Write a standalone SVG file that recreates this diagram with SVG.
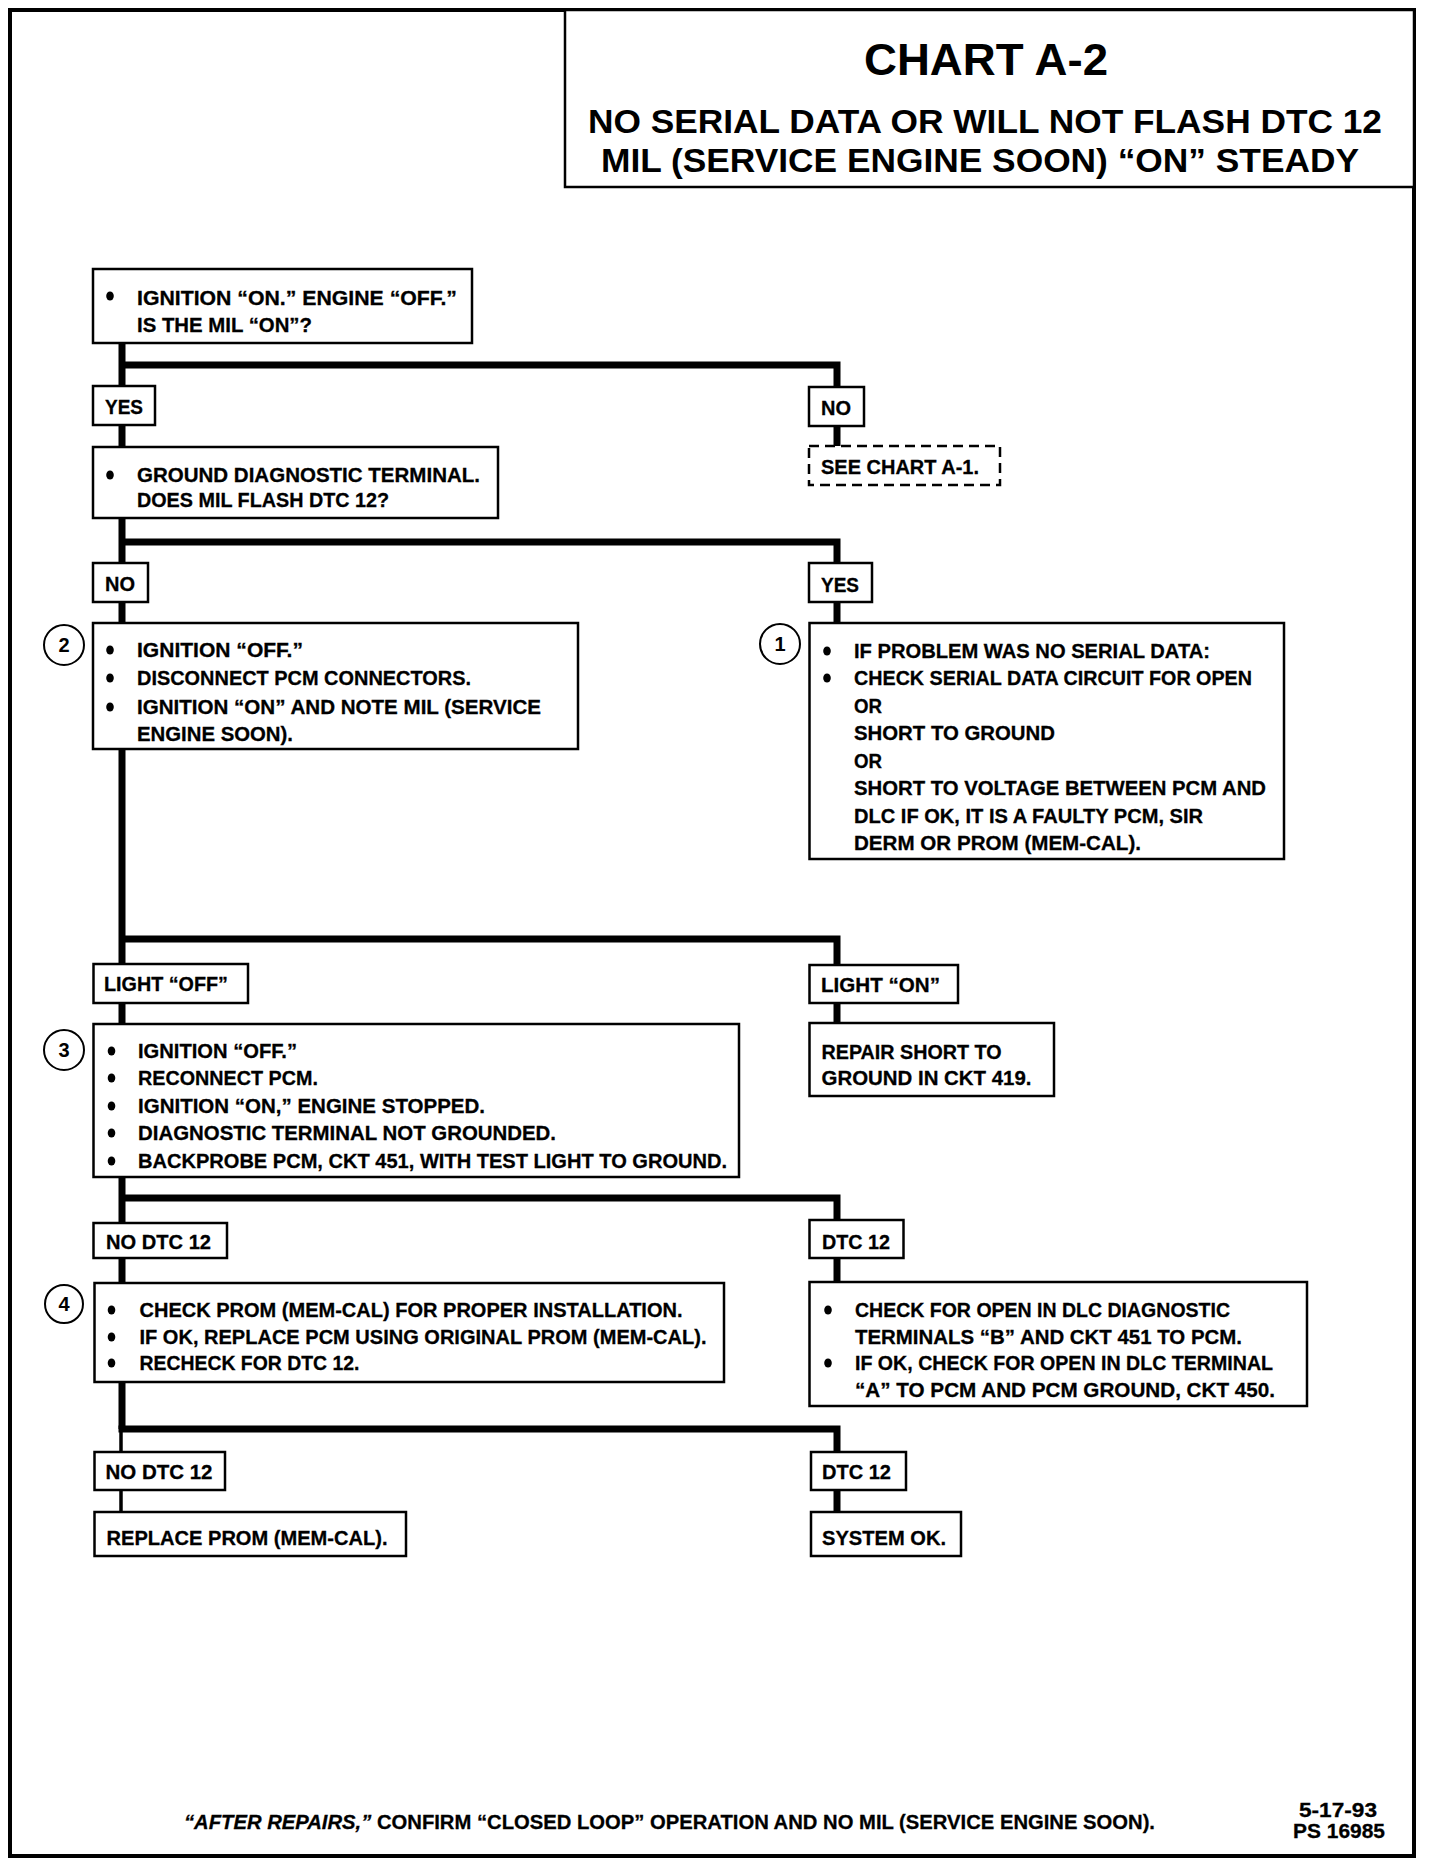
<svg xmlns="http://www.w3.org/2000/svg" width="1440" height="1866" viewBox="0 0 1440 1866">
<style>
.bx{fill:#fff;stroke:#000;stroke-width:2.5}
.dash{fill:#fff;stroke:#000;stroke-width:2.5;stroke-dasharray:10 6}
.t{font-family:"Liberation Sans",Arial,sans-serif;font-weight:bold;font-size:21px;fill:#000;stroke:#000;stroke-width:0.3}
.ti{font-family:"Liberation Sans",Arial,sans-serif;font-weight:bold;fill:#000}
.num{font-family:"Liberation Sans",Arial,sans-serif;font-weight:bold;font-size:20px;fill:#000;text-anchor:middle}
.cir{fill:#fff;stroke:#000;stroke-width:2}
.wire{fill:none;stroke:#000;stroke-width:7;stroke-linejoin:miter;stroke-linecap:butt}
.thin{fill:none;stroke:#000;stroke-width:3.5}
</style>
<defs>
<ellipse id="bul" cx="0" cy="0" rx="3.8" ry="4.6" fill="#000"/>
</defs>
<rect x="0" y="0" width="1440" height="1866" fill="#fff"/>
<rect id="frame" x="10" y="10" width="1404" height="1846" fill="none" stroke="#000" stroke-width="4"/>

<g id="title">
<rect x="565" y="10" width="849" height="177" fill="#fff" stroke="#000" stroke-width="2.5"/>
<text class="ti" x="864" y="75" font-size="44" textLength="244" lengthAdjust="spacingAndGlyphs">CHART A-2</text>
<text class="ti" x="588" y="133" font-size="34" textLength="794" lengthAdjust="spacingAndGlyphs">NO SERIAL DATA OR WILL NOT FLASH DTC 12</text>
<text class="ti" x="601" y="172" font-size="34" textLength="758" lengthAdjust="spacingAndGlyphs">MIL (SERVICE ENGINE SOON) “ON” STEADY</text>
</g>

<g id="connectors">
<polyline class="wire" points="122,343 122,1429"/>
<polyline class="wire" points="122,365 837,365 837,387"/>
<line class="wire" x1="837" y1="426" x2="837" y2="446"/>
<polyline class="wire" points="122,542 837,542 837,563"/>
<line class="wire" x1="837" y1="602" x2="837" y2="623"/>
<polyline class="wire" points="122,939 837,939 837,965"/>
<line class="wire" x1="837" y1="1003" x2="837" y2="1023"/>
<polyline class="wire" points="122,1198 837,1198 837,1220"/>
<line class="wire" x1="837" y1="1258" x2="837" y2="1282"/>
<polyline class="wire" points="118.5,1429 837,1429 837,1452"/>
<line class="wire" x1="837" y1="1490" x2="837" y2="1512"/>
<line class="thin" x1="121" y1="1429" x2="121" y2="1452"/>
<line class="thin" x1="121" y1="1490" x2="121" y2="1512"/>
</g>

<g id="n_ignition_on">
<rect class="bx" x="93" y="269" width="379" height="74"/>
<use href="#bul" x="110" y="296"/>
<text class="t" x="137" y="305" textLength="320" lengthAdjust="spacingAndGlyphs">IGNITION “ON.”  ENGINE “OFF.”</text>
<text class="t" x="137" y="332" textLength="175" lengthAdjust="spacingAndGlyphs">IS THE MIL “ON”?</text>
</g>

<g id="l_yes1">
<rect class="bx" x="93" y="386" width="62" height="39"/>
<text class="t" x="105" y="414" textLength="38" lengthAdjust="spacingAndGlyphs">YES</text>
</g>

<g id="l_no1">
<rect class="bx" x="809" y="387" width="55" height="39"/>
<text class="t" x="821" y="415" textLength="30" lengthAdjust="spacingAndGlyphs">NO</text>
</g>

<g id="n_see_chart">
<rect class="dash" x="809" y="446" width="191" height="39"/>
<text class="t" x="821" y="474" textLength="158" lengthAdjust="spacingAndGlyphs">SEE CHART A-1.</text>
</g>

<g id="n_ground">
<rect class="bx" x="93" y="447" width="405" height="71"/>
<use href="#bul" x="110" y="475"/>
<text class="t" x="137" y="482" textLength="343" lengthAdjust="spacingAndGlyphs">GROUND DIAGNOSTIC TERMINAL.</text>
<text class="t" x="137" y="507" textLength="252" lengthAdjust="spacingAndGlyphs">DOES MIL FLASH DTC 12?</text>
</g>

<g id="l_no2">
<rect class="bx" x="93" y="563" width="55" height="39"/>
<text class="t" x="105" y="591" textLength="30" lengthAdjust="spacingAndGlyphs">NO</text>
</g>

<g id="l_yes2">
<rect class="bx" x="809" y="563" width="63" height="39"/>
<text class="t" x="821" y="592" textLength="38" lengthAdjust="spacingAndGlyphs">YES</text>
</g>

<g id="n_step2">
<rect class="bx" x="93" y="623" width="485" height="126"/>
<circle class="cir" cx="64" cy="645" r="20"/>
<text class="num" x="64" y="652">2</text>
<use href="#bul" x="110" y="650"/>
<use href="#bul" x="110" y="678"/>
<use href="#bul" x="110" y="707"/>
<text class="t" x="137" y="657" textLength="166" lengthAdjust="spacingAndGlyphs">IGNITION “OFF.”</text>
<text class="t" x="137" y="685" textLength="334" lengthAdjust="spacingAndGlyphs">DISCONNECT PCM CONNECTORS.</text>
<text class="t" x="137" y="714" textLength="404" lengthAdjust="spacingAndGlyphs">IGNITION “ON” AND NOTE MIL (SERVICE</text>
<text class="t" x="137" y="741" textLength="156" lengthAdjust="spacingAndGlyphs">ENGINE SOON).</text>
</g>

<g id="n_step1">
<rect class="bx" x="809.5" y="623" width="474.5" height="236"/>
<circle class="cir" cx="780" cy="644" r="20"/>
<text class="num" x="780" y="651">1</text>
<use href="#bul" x="827" y="651"/>
<use href="#bul" x="827" y="678"/>
<text class="t" x="854" y="658" textLength="356" lengthAdjust="spacingAndGlyphs">IF PROBLEM WAS NO SERIAL DATA:</text>
<text class="t" x="854" y="685" textLength="398" lengthAdjust="spacingAndGlyphs">CHECK SERIAL DATA CIRCUIT FOR OPEN</text>
<text class="t" x="854" y="713" textLength="28" lengthAdjust="spacingAndGlyphs">OR</text>
<text class="t" x="854" y="740" textLength="201" lengthAdjust="spacingAndGlyphs">SHORT TO GROUND</text>
<text class="t" x="854" y="768" textLength="28" lengthAdjust="spacingAndGlyphs">OR</text>
<text class="t" x="854" y="795" textLength="412" lengthAdjust="spacingAndGlyphs">SHORT TO VOLTAGE BETWEEN PCM AND</text>
<text class="t" x="854" y="823" textLength="349" lengthAdjust="spacingAndGlyphs">DLC  IF OK, IT IS A FAULTY PCM, SIR</text>
<text class="t" x="854" y="850" textLength="287" lengthAdjust="spacingAndGlyphs">DERM OR PROM (MEM-CAL).</text>
</g>

<g id="l_light_off">
<rect class="bx" x="93.5" y="964" width="154.5" height="39"/>
<text class="t" x="104" y="991" textLength="124" lengthAdjust="spacingAndGlyphs">LIGHT “OFF”</text>
</g>

<g id="l_light_on">
<rect class="bx" x="809.5" y="965" width="148.5" height="38"/>
<text class="t" x="821" y="992" textLength="119" lengthAdjust="spacingAndGlyphs">LIGHT “ON”</text>
</g>

<g id="n_repair">
<rect class="bx" x="809.5" y="1023" width="244.5" height="73"/>
<text class="t" x="821.5" y="1059" textLength="180" lengthAdjust="spacingAndGlyphs">REPAIR SHORT TO</text>
<text class="t" x="821.5" y="1085" textLength="210" lengthAdjust="spacingAndGlyphs">GROUND IN CKT 419.</text>
</g>

<g id="n_step3">
<rect class="bx" x="93.5" y="1024" width="645.5" height="153"/>
<circle class="cir" cx="64" cy="1050" r="20"/>
<text class="num" x="64" y="1057">3</text>
<use href="#bul" x="111.5" y="1051"/>
<use href="#bul" x="111.5" y="1078"/>
<use href="#bul" x="111.5" y="1106"/>
<use href="#bul" x="111.5" y="1133"/>
<use href="#bul" x="111.5" y="1161"/>
<text class="t" x="138" y="1058" textLength="159" lengthAdjust="spacingAndGlyphs">IGNITION “OFF.”</text>
<text class="t" x="138" y="1085" textLength="180" lengthAdjust="spacingAndGlyphs">RECONNECT PCM.</text>
<text class="t" x="138" y="1113" textLength="347" lengthAdjust="spacingAndGlyphs">IGNITION “ON,” ENGINE STOPPED.</text>
<text class="t" x="138" y="1140" textLength="418" lengthAdjust="spacingAndGlyphs">DIAGNOSTIC TERMINAL NOT GROUNDED.</text>
<text class="t" x="138" y="1168" textLength="589" lengthAdjust="spacingAndGlyphs">BACKPROBE PCM, CKT 451, WITH TEST LIGHT TO GROUND.</text>
</g>

<g id="l_no_dtc1">
<rect class="bx" x="93.5" y="1223" width="133.5" height="35"/>
<text class="t" x="106" y="1249" textLength="105" lengthAdjust="spacingAndGlyphs">NO DTC 12</text>
</g>

<g id="l_dtc1">
<rect class="bx" x="809.5" y="1220" width="94" height="38"/>
<text class="t" x="822" y="1249" textLength="68" lengthAdjust="spacingAndGlyphs">DTC 12</text>
</g>

<g id="n_step4">
<rect class="bx" x="94.5" y="1283" width="629.5" height="99"/>
<circle class="cir" cx="64" cy="1304" r="19"/>
<text class="num" x="64" y="1311">4</text>
<use href="#bul" x="111.5" y="1310"/>
<use href="#bul" x="111.5" y="1337"/>
<use href="#bul" x="111.5" y="1363"/>
<text class="t" x="139.5" y="1317" textLength="543" lengthAdjust="spacingAndGlyphs">CHECK PROM (MEM-CAL) FOR PROPER INSTALLATION.</text>
<text class="t" x="139.5" y="1344" textLength="567" lengthAdjust="spacingAndGlyphs">IF OK, REPLACE PCM USING ORIGINAL PROM (MEM-CAL).</text>
<text class="t" x="139.5" y="1370" textLength="220" lengthAdjust="spacingAndGlyphs">RECHECK FOR DTC 12.</text>
</g>

<g id="n_dlc">
<rect class="bx" x="809.5" y="1282" width="497.5" height="124"/>
<use href="#bul" x="828" y="1310"/>
<use href="#bul" x="828" y="1363"/>
<text class="t" x="855" y="1317" textLength="375" lengthAdjust="spacingAndGlyphs">CHECK FOR OPEN IN DLC DIAGNOSTIC</text>
<text class="t" x="855" y="1344" textLength="387" lengthAdjust="spacingAndGlyphs">TERMINALS “B” AND CKT 451 TO PCM.</text>
<text class="t" x="855" y="1370" textLength="418" lengthAdjust="spacingAndGlyphs">IF OK, CHECK FOR OPEN IN DLC TERMINAL</text>
<text class="t" x="855" y="1397" textLength="420" lengthAdjust="spacingAndGlyphs">“A” TO PCM AND PCM GROUND, CKT 450.</text>
</g>

<g id="l_no_dtc2">
<rect class="bx" x="94.5" y="1452" width="130.5" height="38"/>
<text class="t" x="105.5" y="1479" textLength="107" lengthAdjust="spacingAndGlyphs">NO DTC 12</text>
</g>

<g id="n_replace_prom">
<rect class="bx" x="94.5" y="1512" width="311.5" height="44"/>
<text class="t" x="106.5" y="1545" textLength="281" lengthAdjust="spacingAndGlyphs">REPLACE PROM (MEM-CAL).</text>
</g>

<g id="l_dtc2">
<rect class="bx" x="811" y="1452" width="95" height="38"/>
<text class="t" x="822" y="1479" textLength="69" lengthAdjust="spacingAndGlyphs">DTC 12</text>
</g>

<g id="n_system_ok">
<rect class="bx" x="811" y="1512" width="150" height="44"/>
<text class="t" x="822" y="1545" textLength="124" lengthAdjust="spacingAndGlyphs">SYSTEM OK.</text>
</g>

<g id="footer">
<text class="t" x="184" y="1829" textLength="971" lengthAdjust="spacingAndGlyphs"><tspan font-style="italic">“AFTER REPAIRS,”</tspan> CONFIRM “CLOSED LOOP” OPERATION AND NO MIL (SERVICE ENGINE SOON).</text>
<text class="t" x="1299" y="1817" textLength="78" lengthAdjust="spacingAndGlyphs">5-17-93</text>
<text class="t" x="1293" y="1838" textLength="92" lengthAdjust="spacingAndGlyphs">PS 16985</text>
</g>
</svg>
